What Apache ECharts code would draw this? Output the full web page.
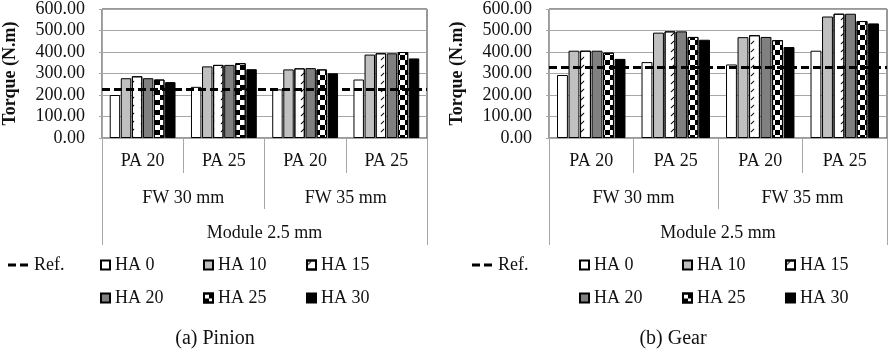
<!DOCTYPE html>
<html>
<head>
<meta charset="utf-8">
<script src="https://cdn.jsdelivr.net/npm/echarts@6/dist/echarts.min.js"></script>
<style>
html,body{margin:0;padding:0;background:#fff;}
#c{width:891px;height:352px;}
</style>
</head>
<body>
<div id="c"></div>
<script>
// ---- data ----
const categories = ['PA 20', 'PA 25', 'PA 20', 'PA 25'];
const fwLabels = ['FW 30 mm', 'FW 35 mm'];
const moduleLabels = ['Module 2.5 mm'];
const seriesNames = ['HA 0', 'HA 10', 'HA 15', 'HA 20', 'HA 25', 'HA 30'];
const yTicks = [0, 100, 200, 300, 400, 500, 600];

const pinionHA0  = [200, 238, 226, 272];
const pinionHA10 = [278, 333, 319, 388];
const pinionHA15 = [287, 340, 324, 394];
const pinionHA20 = [278, 340, 325, 394];
const pinionHA25 = [272, 348, 319, 400];
const pinionHA30 = [260, 320, 301, 370];
const pinionRef = 228;

const gearHA0  = [293, 353, 342, 406];
const gearHA10 = [406, 490, 469, 565];
const gearHA15 = [406, 496, 478, 578];
const gearHA20 = [406, 496, 470, 578];
const gearHA25 = [397, 470, 455, 544];
const gearHA30 = [368, 457, 423, 533];
const gearRef = 330;

const pinionSeries = [pinionHA0, pinionHA10, pinionHA15, pinionHA20, pinionHA25, pinionHA30];
const gearSeries = [gearHA0, gearHA10, gearHA15, gearHA20, gearHA25, gearHA30];

// ---- styles ----
const FONT = 'Liberation Serif';
const TXT = '#111';
const GRAYLINE = '#a6a6a6';
const styles = [
  {color: '#ffffff'},
  {color: '#c0c0c0'},
  {color: '#ffffff', decal: {symbol: 'path://M0,10L2,10L10,2L10,0L8,0L0,8Z', symbolSize: 0.7, dashArrayX: [5, 5], dashArrayY: [5, 3], color: '#000', rotation: 0}},
  {color: '#808080'},
  {color: '#ffffff', decal: {symbol: 'rect', symbolSize: 1, dashArrayX: [[5, 5], [0, 5, 5, 0]], dashArrayY: [5, 0], color: '#000', rotation: 0}},
  {color: '#000000'}
];

const grids = [
  {left: 98, width: 329, top: 7, height: 131, show: true, borderColor: '#333', borderWidth: 1},
  {left: 549, width: 338, top: 7, height: 131, show: true, borderColor: '#333', borderWidth: 1}
];

function xAxesFor(g) {
  return [
    {type: 'category', gridIndex: g, data: categories, position: 'bottom',
     axisLine: {lineStyle: {color: GRAYLINE}},
     axisTick: {show: true, length: 35, interval: 0, lineStyle: {color: GRAYLINE}},
     axisLabel: {interval: 0, margin: 14, fontFamily: FONT, fontSize: 18, color: TXT}},
    {type: 'category', gridIndex: g, data: fwLabels, position: 'bottom', offset: 35,
     axisLine: {show: false},
     axisTick: {show: true, length: 36, interval: 0, lineStyle: {color: GRAYLINE}},
     axisLabel: {interval: 0, margin: 16, fontFamily: FONT, fontSize: 18, color: TXT}},
    {type: 'category', gridIndex: g, data: moduleLabels, position: 'bottom', offset: 71,
     axisLine: {show: false},
     axisTick: {show: true, length: 36, interval: 0, lineStyle: {color: GRAYLINE}},
     axisLabel: {interval: 0, margin: 15, fontFamily: FONT, fontSize: 18, color: TXT}}
  ];
}

function yAxisFor(g) {
  return {
    type: 'value', gridIndex: g, min: yTicks[0], max: yTicks[yTicks.length - 1], interval: 100,
    name: 'Torque (N.m)', nameLocation: 'middle', nameGap: 83,
    nameTextStyle: {fontFamily: FONT, fontSize: 18, fontWeight: 'bold', color: TXT},
    axisLine: {show: true, lineStyle: {color: GRAYLINE}},
    axisTick: {show: true, length: 3, lineStyle: {color: GRAYLINE}},
    axisLabel: {margin: 17, fontFamily: FONT, fontSize: 18, color: TXT, formatter: v => v.toFixed(2)},
    splitLine: {show: true, lineStyle: {color: GRAYLINE}}
  };
}

const series = [];
function addChart(g, dataList, refVal) {
  dataList.forEach((d, i) => {
    const st = styles[i];
    const itemStyle = {color: st.color, borderColor: '#000', borderWidth: 1};
    if (st.decal) itemStyle.decal = st.decal;
    series.push({
      name: seriesNames[i], type: 'bar', xAxisIndex: g * 3, yAxisIndex: g,
      data: d, barCategoryGap: '19%', barGap: '6%', itemStyle: itemStyle,
      emphasis: {disabled: true}, animation: false, z: 2
    });
  });
  series.push({
    name: 'Ref.', type: 'line', xAxisIndex: g * 3, yAxisIndex: g, data: [],
    color: '#000', animation: false,
    markLine: {silent: true, symbol: 'none', animation: false, z: 5,
      label: {show: false},
      lineStyle: {color: '#000', width: 3, type: [8, 4]},
      data: [{yAxis: refVal}]}
  });
}
addChart(0, pinionSeries, pinionRef);
addChart(1, gearSeries, gearRef);

const refIcon = 'path://M0,0L8,0L8,3L0,3Z M12,0L20,0L20,3L12,3Z';
const legendText = {fontFamily: FONT, fontSize: 18, color: TXT};
function legendsFor(xRef, xHA) {
  const out = [{left: xRef, top: 256, padding: 0, selectedMode: false, itemWidth: 22, itemHeight: 3, itemGap: 4,
    data: [{name: 'Ref.', icon: refIcon}], textStyle: legendText}];
  seriesNames.forEach((n, i) => {
    const col = i % 3, row = Math.floor(i / 3);
    out.push({left: xHA + col * 103, top: 256 + row * 33, padding: 0, selectedMode: false,
      itemWidth: 9, itemHeight: 9, itemGap: 4,
      data: [{name: n, icon: 'rect'}], textStyle: legendText});
  });
  return out;
}

const option = {
  backgroundColor: '#fff',
  animation: false,
  grid: grids,
  xAxis: xAxesFor(0).concat(xAxesFor(1)),
  yAxis: [yAxisFor(0), yAxisFor(1)],
  legend: legendsFor(8, 100).concat(legendsFor(472, 579)),
  title: [
    {text: '(a) Pinion', left: 210, top: 324, textAlign: 'center',
     textStyle: {fontFamily: FONT, fontSize: 20, fontWeight: 'normal', color: TXT}},
    {text: '(b) Gear', left: 668, top: 324, textAlign: 'center',
     textStyle: {fontFamily: FONT, fontSize: 20, fontWeight: 'normal', color: TXT}}
  ],
  series: series
};

const chart = echarts.init(document.getElementById('c'), null, {renderer: 'canvas'});
chart.setOption(option);
</script>
</body>
</html>
